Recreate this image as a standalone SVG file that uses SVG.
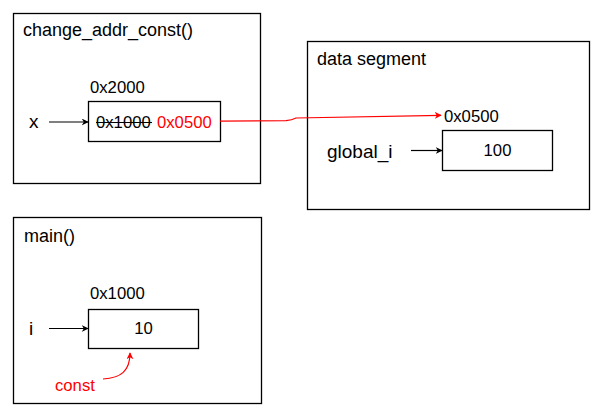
<svg xmlns="http://www.w3.org/2000/svg" width="596" height="416" viewBox="0 0 596 416">
<defs>
<style>
.box{fill:#fff;stroke:#000;stroke-width:1.3}
.t{font-family:"Liberation Sans",Arial,sans-serif;fill:#000}
.title{font-size:18px}
.lbl{font-size:16.7px}
.var{font-size:19px}
.red{fill:#ff0000}
.edge{fill:none;stroke:#000;stroke-width:1.2}
.redge{fill:none;stroke:#ff0000;stroke-width:1.2}
</style>
<marker id="ah" viewBox="0 0 10 10" refX="9" refY="5" markerWidth="7" markerHeight="7" orient="auto" markerUnits="userSpaceOnUse">
<path d="M0,0 L10,5 L0,10 L3,5 Z" fill="#000"/>
</marker>
<marker id="ahr" viewBox="0 0 10 10" refX="9" refY="5" markerWidth="7" markerHeight="7" orient="auto" markerUnits="userSpaceOnUse">
<path d="M0,0 L10,5 L0,10 L3,5 Z" fill="#ff0000"/>
</marker>
</defs>
<rect width="596" height="416" fill="#fff"/>
<g id="change_addr_const">
<rect class="box" x="13.5" y="13.5" width="247" height="170"/>
<text class="t title" x="23" y="36">change_addr_const()</text>
<text class="t lbl" x="90" y="93">0x2000</text>
<text class="t var" x="29" y="128">x</text>
<rect class="box" x="88.5" y="101.5" width="132" height="40"/>
<text class="t lbl" x="96" y="128">0x1000</text>
<line x1="96" y1="122.5" x2="152" y2="122.5" stroke="#000" stroke-width="1.2"/>
<text class="t lbl red" x="157" y="128">0x0500</text>
</g>
<g id="data_segment">
<rect class="box" x="307.5" y="41.5" width="282" height="168"/>
<text class="t title" x="317" y="65">data segment</text>
<text class="t lbl" x="444" y="122">0x0500</text>
<text class="t var" x="327" y="158">global_i</text>
<rect class="box" x="442.5" y="130.5" width="110" height="40"/>
<text class="t lbl" x="497.5" y="156" text-anchor="middle">100</text>
</g>
<g id="main">
<rect class="box" x="13.5" y="217.5" width="248" height="186"/>
<text class="t title" x="24" y="242">main()</text>
<text class="t lbl" x="90" y="299">0x1000</text>
<text class="t var" x="29" y="335">i</text>
<rect class="box" x="88.5" y="309.5" width="110" height="39"/>
<text class="t lbl" x="143.5" y="334" text-anchor="middle">10</text>
<text class="t lbl red" x="55" y="391">const</text>
</g>
<g id="connectors">
<line class="edge" x1="49" y1="122" x2="88" y2="122" marker-end="url(#ah)"/>
<line class="edge" x1="411" y1="150.5" x2="442" y2="150.5" marker-end="url(#ah)"/>
<line class="edge" x1="49" y1="328.5" x2="88" y2="328.5" marker-end="url(#ah)"/>
<path class="redge" d="M220,121.2 L286,120.6 Q292,120.2 296,118 L441,115.3" marker-end="url(#ahr)"/>
<path class="redge" d="M103,379 C121,378 130,371 130,353" marker-end="url(#ahr)"/>
</g>
</svg>
